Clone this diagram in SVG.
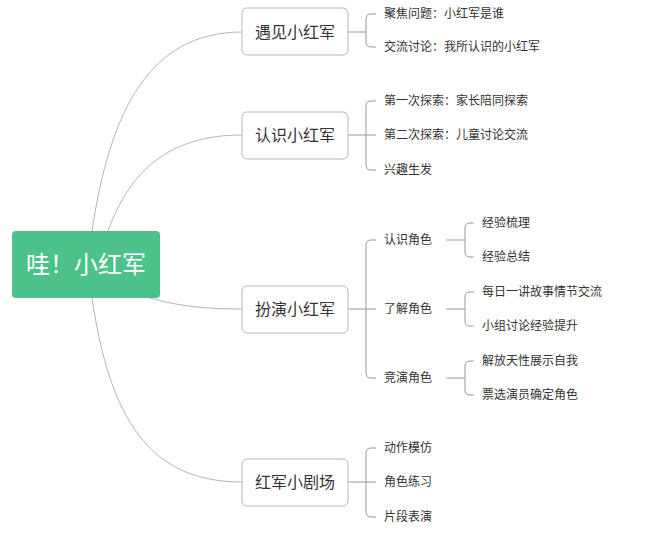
<svg xmlns="http://www.w3.org/2000/svg" width="661" height="541" viewBox="0 0 661 541">
<style>
.c{fill:none;stroke:#b4b4b4;stroke-width:1}
.b{fill:none;stroke:#999;stroke-width:1}
.box{fill:#fff;stroke:#b8b8b8;stroke-width:1}
.t{font-family:"Noto Sans CJK SC",sans-serif;fill:#333}
.m{font-size:16px}
.s{font-size:12px}
</style>
<rect width="661" height="541" fill="#fff"/>
<g id="connectors">
<path class="c" d="M92 231 C110 110 150 32 242 32"/>
<path class="c" d="M108 231 C130 170 170 135 242 135"/>
<path class="c" d="M150 298 C175 305 200 309 242 309"/>
<path class="c" d="M92 298 C110 420 150 482 242 482"/>
<path class="b" d="M348 32H366M376 14H371Q366 14 366 19V42Q366 47 371 47H376"/>
<path class="b" d="M348 135H376M376 101H371Q366 101 366 106V165Q366 170 371 170H376"/>
<path class="b" d="M348 309H376M376 240H371Q366 240 366 245V373Q366 378 371 378H376"/>
<path class="b" d="M348 482H376M376 448H371Q366 448 366 453V512Q366 517 371 517H376"/>
<path class="b" d="M446 240H465M474 223H470Q465 223 465 228V252Q465 257 470 257H474"/>
<path class="b" d="M446 309H465M474 292H470Q465 292 465 297V321Q465 326 470 326H474"/>
<path class="b" d="M446 378H465M474 361H470Q465 361 465 366V390Q465 395 470 395H474"/>
</g>
<g id="root"><rect x="12" y="231" width="148" height="67" rx="4" fill="#4cc28a"/><text x="86" y="273" text-anchor="middle" class="t" style="font-size:24px;fill:#fff">哇！小红军</text></g>
<g id="n1"><rect class="box" x="242" y="8" width="106" height="47" rx="5"/><text x="295" y="38" text-anchor="middle" class="t m">遇见小红军</text></g>
<g id="n2"><rect class="box" x="242" y="112" width="106" height="47" rx="5"/><text x="295" y="141" text-anchor="middle" class="t m">认识小红军</text></g>
<g id="n3"><rect class="box" x="242" y="286" width="106" height="47" rx="5"/><text x="295" y="315" text-anchor="middle" class="t m">扮演小红军</text></g>
<g id="n4"><rect class="box" x="242" y="459" width="106" height="47" rx="5"/><text x="295" y="488" text-anchor="middle" class="t m">红军小剧场</text></g>
<g id="leaves" class="t s">
<text x="384" y="18">聚焦问题：小红军是谁</text>
<text x="384" y="51">交流讨论：我所认识的小红军</text>
<text x="384" y="105">第一次探索：家长陪同探索</text>
<text x="384" y="139">第二次探索：儿童讨论交流</text>
<text x="384" y="174">兴趣生发</text>
<text x="384" y="244">认识角色</text>
<text x="384" y="313">了解角色</text>
<text x="384" y="382">竞演角色</text>
<text x="482" y="227">经验梳理</text>
<text x="482" y="261">经验总结</text>
<text x="482" y="296">每日一讲故事情节交流</text>
<text x="482" y="330">小组讨论经验提升</text>
<text x="482" y="365">解放天性展示自我</text>
<text x="482" y="399">票选演员确定角色</text>
<text x="384" y="452">动作模仿</text>
<text x="384" y="486">角色练习</text>
<text x="384" y="521">片段表演</text>
</g>
</svg>
